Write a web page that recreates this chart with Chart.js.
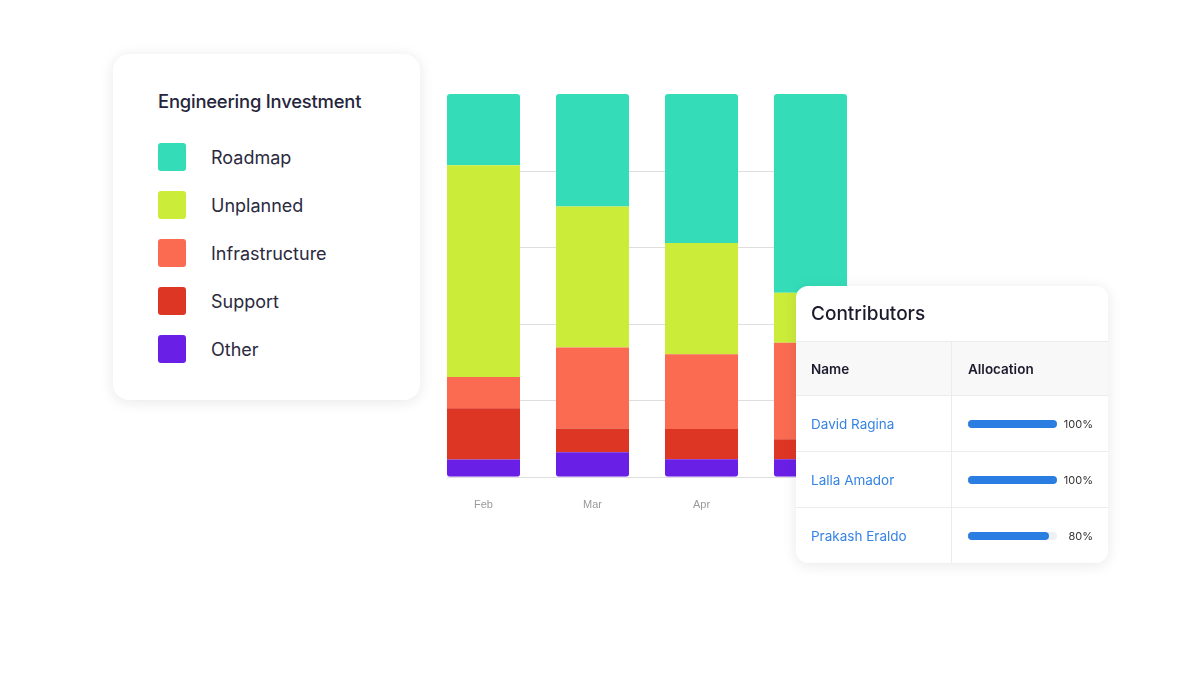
<!DOCTYPE html>
<html>
<head>
<meta charset="utf-8">
<script src="https://cdn.jsdelivr.net/npm/chart.js@4/dist/chart.umd.min.js"></script>
<style>
  html, body { margin: 0; padding: 0; background: #fff; }
  body { width: 1204px; height: 692px; position: relative; overflow: hidden; font-family: Inter, "Noto Sans", sans-serif; }
  .card { position: absolute; background: #fff; box-shadow: 0 2px 14px rgba(30, 30, 60, 0.10); }
  #legend-card { left: 113px; top: 54px; width: 307px; height: 346px; border-radius: 16px; }
  #legend-card h3 { position: absolute; left: 45px; top: 36px; margin: 0; font-size: 18.4px; font-weight: 500; color: #26253c; letter-spacing: -0.2px; }
  .leg-item { position: absolute; left: 45px; height: 28px; display: flex; align-items: center; }
  .leg-item .sw { width: 28px; height: 28px; border-radius: 3px; margin-right: 25px; }
  .leg-item span { font-size: 18px; color: #2b2a40; }
  #chart-wrap { position: absolute; left: 400px; top: 60px; width: 500px; height: 480px; }
  #contrib { left: 796px; top: 286px; width: 312px; height: 277px; border-radius: 12px; overflow: hidden; z-index: 5; }
  #contrib .title { height: 55px; line-height: 56px; padding-left: 15px; font-size: 19px; font-weight: 500; color: #1c1b2e; border-bottom: 1px solid #ececec; }
  #contrib table { border-collapse: collapse; width: 100%; font-size: 13.5px; }
  #contrib td, #contrib th { height: 55px; padding: 0 0 0 15px; text-align: left; border-bottom: 1px solid #ececec; }
  #contrib th { height: 53px; background: #f8f8f8; font-weight: 600; color: #1c1b2e; }
  #contrib td:first-child, #contrib th:first-child { width: 140px; border-right: 1px solid #ececec; }
  #contrib td:last-child, #contrib th:last-child { padding-left: 16px; }
  #contrib tr:last-child td { border-bottom: none; }
  .name { color: #3584e4; }
  .alloc { display: flex; align-items: center; }
  .track { width: 89px; height: 8px; border-radius: 4px; background: #eef0f3; }
  .fill { height: 8px; border-radius: 4px; background: #2a7de1; }
  .pct { width: 36px; text-align: right; font-size: 11px; color: #333; }
</style>
</head>
<body>
<div class="card" id="legend-card"><h3>Engineering Investment</h3></div>
<div id="chart-wrap"><canvas id="investChart"></canvas></div>
<div class="card" id="contrib">
  <div class="title">Contributors</div>
  <table>
    <tr><th>Name</th><th>Allocation</th></tr>
    <tbody id="contrib-body"></tbody>
  </table>
</div>
<script>
// ===== Data =====
const months = ["Feb", "Mar", "Apr", "May"];
const seriesNames = ["Roadmap", "Unplanned", "Infrastructure", "Support", "Other"];
const seriesColors = ["#34ddb8", "#ccec3a", "#fa6b52", "#de3624", "#6a1fe6"];
const roadmap = [18.6, 29.4, 38.9, 51.9];
const unplanned = [55.3, 36.8, 29.1, 13.1];
const infrastructure = [8.2, 21.2, 19.5, 25.2];
const support = [13.4, 6.2, 7.9, 5.2];
const other = [4.5, 6.4, 4.6, 4.6];
const yTicks = [0, 20, 40, 60, 80];

const contributors = ["David Ragina", "Lalla Amador", "Prakash Eraldo"];
const allocation = [100, 100, 80];
const allocBar = [100, 100, 91]; // visual fill of the bar

// ===== Legend card =====
const legendCard = document.getElementById("legend-card");
seriesNames.forEach((name, i) => {
  const item = document.createElement("div");
  item.className = "leg-item";
  item.style.top = (89 + i * 48) + "px";
  item.innerHTML = `<div class="sw" style="background:${seriesColors[i]}"></div><span>${name}</span>`;
  legendCard.appendChild(item);
});

// ===== Contributors table =====
const body = document.getElementById("contrib-body");
contributors.forEach((n, i) => {
  const tr = document.createElement("tr");
  tr.innerHTML = `<td class="name">${n}</td>
    <td><div class="alloc"><div class="track"><div class="fill" style="width:${allocBar[i]}%"></div></div><div class="pct">${allocation[i]}%</div></div></td>`;
  body.appendChild(tr);
});

// ===== Gridlines only between the bars =====
const innerGrid = {
  id: "innerGrid",
  beforeDatasetsDraw(chart) {
    const meta = chart.getDatasetMeta(0);
    const first = meta.data[0], last = meta.data[meta.data.length - 1];
    const x0 = first.x - first.width / 2, x1 = last.x + last.width / 2;
    const y = chart.scales.y;
    const ctx = chart.ctx;
    ctx.save();
    ctx.strokeStyle = "#dedede";
    ctx.lineWidth = 1;
    yTicks.forEach(v => {
      const py = Math.round(y.getPixelForValue(v)) + 0.5;
      ctx.beginPath();
      ctx.moveTo(x0, py);
      ctx.lineTo(x1, py);
      ctx.stroke();
    });
    ctx.restore();
  }
};

const seriesData = [roadmap, unplanned, infrastructure, support, other];
const radii = [
  { topLeft: 3, topRight: 3, bottomLeft: 0, bottomRight: 0 },
  0, 0, 0,
  { topLeft: 0, topRight: 0, bottomLeft: 3, bottomRight: 3 }
];

new Chart(document.getElementById("investChart"), {
  type: "bar",
  data: {
    labels: months,
    datasets: seriesNames.map((name, i) => ({
      label: name,
      data: seriesData[i],
      backgroundColor: seriesColors[i],
      borderWidth: 0,
      borderRadius: radii[i],
      borderSkipped: false,
      categoryPercentage: 1,
      barPercentage: 0.67,
      order: seriesNames.length - i
    }))
  },
  options: {
    responsive: true,
    maintainAspectRatio: false,
    animation: false,
    layout: { padding: { left: 29, right: 35, top: 34, bottom: 6 } },
    plugins: { legend: { display: false }, tooltip: { enabled: false } },
    scales: {
      x: {
        stacked: true,
        grid: { display: false, drawTicks: false },
        border: { display: false },
        ticks: { color: "#9a9a9a", padding: 22, font: { family: "Liberation Sans", size: 11 } }
      },
      y: {
        stacked: true,
        display: false,
        min: 0,
        max: 100
      }
    }
  },
  plugins: [innerGrid]
});
</script>
</body>
</html>
